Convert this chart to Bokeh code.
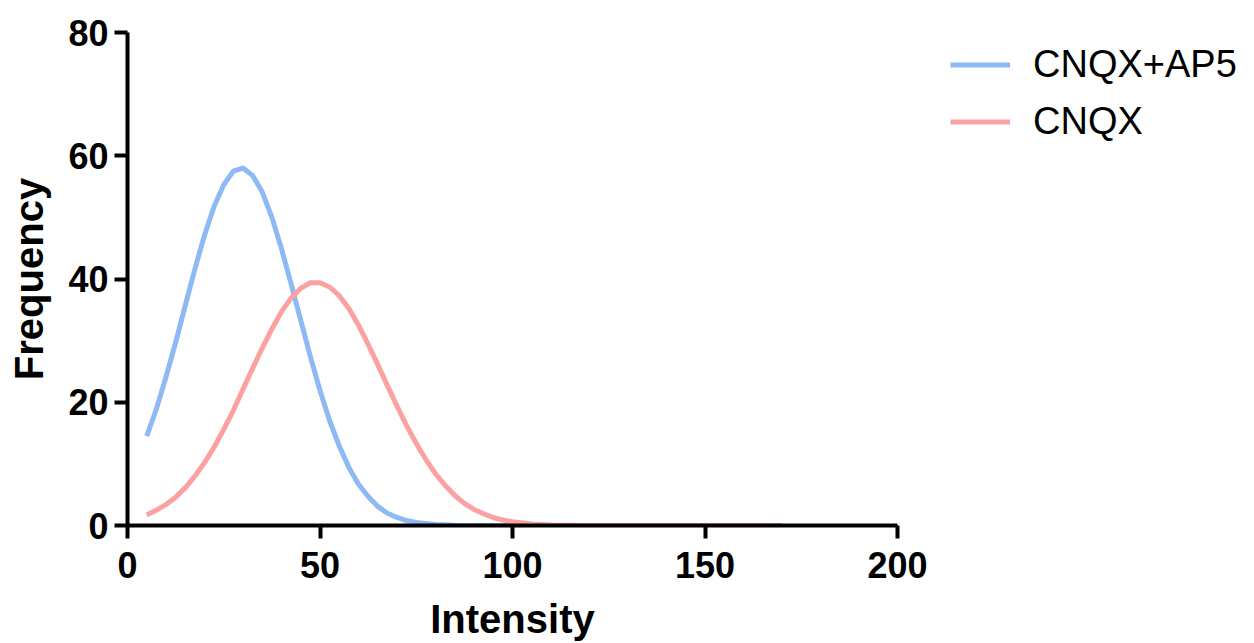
from bokeh.plotting import figure
from bokeh.models import Legend, LegendItem, Range1d, FixedTicker
from bokeh.embed import file_html
from bokeh.resources import INLINE

# Data
blue_x = [5, 7.5, 10, 12.5, 15, 17.5, 20, 22.5, 25, 27.5, 30, 32.5, 35, 37.5, 40, 42.5, 45, 47.5, 50,
          52.5, 55, 57.5, 60, 62.5, 65, 67.5, 70, 72.5, 75, 80, 85, 90, 100, 120, 140, 160, 170]
blue_y = [14.5, 18.9, 24.1, 29.7, 35.7, 41.6, 47.1, 51.8, 55.3, 57.5, 58.0, 56.8, 54.1, 50.0, 44.9, 39.2, 33.3, 27.4, 21.9,
          17.0, 12.9, 9.4, 6.7, 4.7, 3.1, 2.0, 1.3, 0.8, 0.48, 0.16, 0.05, 0.01, 0, 0, 0, 0, 0]

red_x = [5, 7.5, 10, 12.5, 15, 17.5, 20, 22.5, 25, 27.5, 30, 32.5, 35, 37.5, 40, 42.5, 45, 47.5, 50, 52.5,
         55, 57.5, 60, 62.5, 65, 67.5, 70, 72.5, 75, 77.5, 80, 82.5, 85, 87.5, 90, 92.5, 95, 97.5, 100,
         105, 110, 115, 120, 140, 160, 170]
red_y = [1.7, 2.5, 3.4, 4.6, 6.1, 8.0, 10.2, 12.7, 15.6, 18.7, 22.1, 25.5, 28.8, 31.9, 34.7, 36.9, 38.5, 39.4, 39.4, 38.7,
         37.3, 35.2, 32.5, 29.4, 26.1, 22.7, 19.4, 16.2, 13.3, 10.7, 8.4, 6.5, 4.9, 3.6, 2.6, 1.9, 1.3, 0.9, 0.6,
         0.25, 0.1, 0.04, 0.01, 0, 0, 0]

x_ticks = [0, 50, 100, 150, 200]
y_ticks = [0, 20, 40, 60, 80]
series_names = ["CNQX+AP5", "CNQX"]

FONT = "Liberation Sans"
BLUE = "#8DB9F4"
RED = "#FBA1A1"

p = figure(frame_width=770, frame_height=493,
           min_border_left=127, min_border_top=32, min_border_right=349, min_border_bottom=110,
           x_range=Range1d(0, 200), y_range=Range1d(0, 80),
           output_backend="svg", toolbar_location=None)

p.outline_line_color = None
p.grid.visible = False
p.background_fill_color = "white"
p.border_fill_color = "white"

for ax in (p.xaxis[0], p.yaxis[0]):
    ax.axis_line_width = 4
    ax.axis_line_color = "black"
    ax.major_tick_line_width = 4
    ax.major_tick_line_color = "black"
    ax.major_tick_out = 13
    ax.major_tick_in = 0
    ax.minor_tick_line_color = None
    ax.major_label_text_font = FONT
    ax.major_label_text_font_style = "bold"
    ax.major_label_text_font_size = "36px"
    ax.major_label_text_color = "black"
    ax.axis_label_text_font = FONT
    ax.axis_label_text_font_style = "bold"
    ax.axis_label_text_font_size = "40px"
    ax.axis_label_text_color = "black"

p.xaxis[0].ticker = FixedTicker(ticks=x_ticks)
p.yaxis[0].ticker = FixedTicker(ticks=y_ticks)
p.xaxis[0].axis_label = "Intensity"
p.yaxis[0].axis_label = "Frequency"
p.xaxis[0].major_label_standoff = 13
p.yaxis[0].major_label_standoff = 6
p.xaxis[0].axis_label_standoff = 16
p.yaxis[0].axis_label_standoff = 14

r_blue = p.line(blue_x, blue_y, line_color=BLUE, line_width=5, line_join="round")
r_red = p.line(red_x, red_y, line_color=RED, line_width=5, line_join="round")

legend = Legend(items=[LegendItem(label=series_names[0], renderers=[r_blue]),
                       LegendItem(label=series_names[1], renderers=[r_red])],
                location=(53, 375))
legend.padding = 0
legend.margin = 0
legend.spacing = 0
legend.border_line_color = None
legend.background_fill_alpha = 0
legend.glyph_width = 60
legend.glyph_height = 57
legend.label_height = 57
legend.label_standoff = 23
legend.label_text_font = FONT
legend.label_text_font_size = "38px"
legend.label_text_color = "black"
p.add_layout(legend, "right")

open("out.html", "w").write(file_html(p, INLINE))
